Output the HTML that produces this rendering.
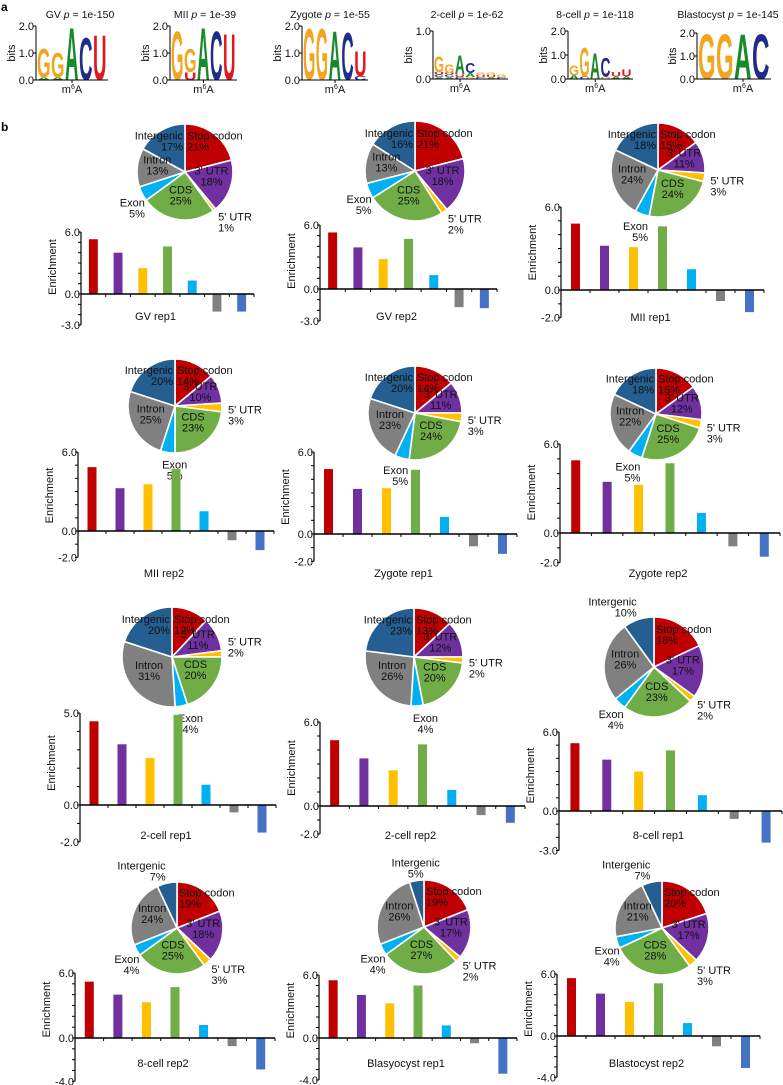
<!DOCTYPE html>
<html><head><meta charset="utf-8">
<style>
html,body{margin:0;padding:0;background:#fff;}
svg{display:block;font-family:"Liberation Sans",Arial,sans-serif;}
</style></head>
<body>
<svg id="fig" width="783" height="1085" viewBox="0 0 783 1085" xmlns="http://www.w3.org/2000/svg">
<text x="1" y="11" font-size="12" font-weight="bold">a</text>
<text x="1" y="131" font-size="12" font-weight="bold">b</text>
</svg>
<script>
// ---------- DATA ----------
const sliceNames = ["Stop codon","3' UTR","5' UTR","CDS","Exon","Intron","Intergenic"];
const panelTitles = ["GV rep1","GV rep2","MII rep1","MII rep2","Zygote rep1","Zygote rep2","2-cell rep1","2-cell rep2","8-cell rep1","8-cell rep2","Blasyocyst rep1","Blastocyst rep2"];
const piePercents = [
 [21,18,1,25,5,13,17],[21,18,2,25,5,13,16],[15,11,3,24,5,24,18],
 [14,10,3,23,5,25,20],[14,11,3,24,5,23,20],[15,12,3,25,5,22,18],
 [12,11,2,20,4,31,20],[13,12,2,20,4,26,23],[18,17,2,23,4,26,10],
 [19,18,3,25,4,24,7],[19,17,2,27,4,26,5],[20,17,3,28,4,21,7]];
const enrichValues = [
 [5.3,4.0,2.5,4.6,1.3,-1.7,-1.7],[5.3,3.9,2.8,4.7,1.3,-1.7,-1.8],[4.8,3.2,3.1,4.6,1.5,-0.8,-1.6],
 [4.85,3.25,3.55,4.7,1.5,-0.7,-1.45],[4.75,3.3,3.35,4.7,1.25,-0.9,-1.45],[4.9,3.45,3.25,4.7,1.35,-0.9,-1.6],
 [4.55,3.3,2.55,4.9,1.1,-0.4,-1.5],[4.7,3.4,2.55,4.4,1.15,-0.65,-1.2],[5.15,3.9,3.0,4.6,1.2,-0.6,-2.4],
 [5.2,4.0,3.3,4.7,1.2,-0.75,-2.9],[5.5,4.1,3.3,5.0,1.2,-0.5,-3.4],[5.6,4.1,3.3,5.1,1.25,-1.0,-3.1]];
const axisTopValues = [6,6,6,6,6,6,5,6,6,6,6,6];
const axisMinValues = [-3,-3,-2,-2,-2,-2,-2,-2,-3,-4,-4,-4];
const motifTitles = ["GV","MII","Zygote","2-cell","8-cell","Blastocyst"];
const motifPvalues = ["1e-150","1e-39","1e-55","1e-62","1e-118","1e-145"];
const motifMaxBits = [2,2,2,1,2,2];
const motifStacks = [
 [[['A',0.1],['G',1.1]],[['A',0.1],['G',0.95]],[['A',2.0]],[['C',1.6]],[['U',1.7]]],
 [[['G',1.85]],[['U',0.3],['G',0.9]],[['A',2.0]],[['C',1.85]],[['U',1.75]]],
 [[['G',1.95]],[['G',1.95]],[['A',1.85]],[['C',1.8]],[['C',0.15],['U',0.95]]],
 [[['A',0.04],['C',0.05],['U',0.05],['G',0.35]],[['A',0.04],['C',0.05],['U',0.04],['G',0.18]],[['C',0.04],['U',0.06],['A',0.4]],[['G',0.04],['A',0.08],['C',0.22]],[['C',0.04],['U',0.04],['G',0.05]],[['A',0.04],['U',0.04],['G',0.05]],[['C',0.04],['G',0.05]]],
 [[['A',0.15],['G',0.45]],[['C',0.1],['G',1.25]],[['A',1.1]],[['G',0.1],['C',0.8]],[['A',0.1],['U',0.2]],[['A',0.1],['U',0.3]]],
 [[['G',2.0]],[['G',2.0]],[['A',2.0]],[['C',2.0]]]];

// ---------- LAYOUT ----------
const sliceColors = ["#c00000","#7030a0","#ffc000","#70ad47","#00b0f0","#808080","#255e91"];
const barColors = ["#c00000","#7030a0","#ffc000","#70ad47","#00b0f0","#808080","#4472c4"];
const letterColors = {G:"#f2a51f",A:"#178a2b",C:"#1f2d8a",U:"#e3161b"};
const pieGeom = [[185,172,48],[415,171,50],[658,170,47],[175,406,47],[415,413,47],[656,414,46],[172,657,50],[414,657,49],[654,667,50],[177,928,46],[424,927,47],[662,928,47]];
const barGeom = [ // x0,x1,zeroY,topY,labelY
 [81,254,294,232,320],[320,497,289,225,320],[561,764,290,207,321],
 [78,274,531,452,577],[314,517,534,452,577],[560,780,533,444,577],
 [80,276,805,713,839],[320,525,806,722,839],[559,782,811,732,839],
 [75,275,1038,973,1067],[319,517,1038,975,1067],[557,760,1036,974,1067]];
const motifGeom = [ // axisX, endX, topY, bottomY, centerX of title
 [36,108,26,80,80],[170,237,26,80,205],[302,368,26,80,330],[433,508,31,79,467],[568,633,31,79,595],[697,771,33,79,728]];

const svg = document.getElementById('fig');
const NS = "http://www.w3.org/2000/svg";
function mk(tag, attrs, parent){
  const e = document.createElementNS(NS, tag);
  for (const k in attrs) e.setAttribute(k, attrs[k]);
  (parent||svg).appendChild(e);
  return e;
}
function polar(cx,cy,r,a){ return [cx + r*Math.sin(a), cy - r*Math.cos(a)]; }

// ---------- MOTIFS ----------
motifStacks.forEach((stacks, m) => {
  const [ax, ex, ty, by, tcx] = motifGeom[m];
  const g = mk('g', {});
  
  
  const t = mk('text', {x: tcx, y: 18, 'font-size': 10.5, 'text-anchor': 'middle', fill: '#111'}, g);
  
  
  t.innerHTML = motifTitles[m] + ' <tspan font-style="italic">p</tspan> = ' + motifPvalues[m];
  const bitsPx = (by - ty) / motifMaxBits[m];
  const n = stacks.length, w = (ex - ax - 2) / n;
  stacks.forEach((stack, i) => {
    let base = by;
    stack.forEach(([ch, bits]) => {
      const h = bits * bitsPx;
      if (h < 0.5) return;
      const lt = mk('text', {x: ax + 1 + i*w, y: base, 'font-size': (h/0.72).toFixed(2), 'font-weight': 'bold', fill: letterColors[ch], textLength: (w-0.5).toFixed(2), lengthAdjust: 'spacingAndGlyphs'}, g);
      
      
      lt.textContent = ch;
      base -= h;
    });
  });
  mk('line', {x1: ax, y1: ty, x2: ax, y2: by, stroke: '#000', 'stroke-width': 1}, g);
  mk('line', {x1: ax, y1: by, x2: ex, y2: by, stroke: '#000', 'stroke-width': 1}, g);
  const ticks = motifMaxBits[m] === 2 ? [0,1,2] : [0,1];
  ticks.forEach(v => {
    const y = by - v*bitsPx;
    mk('line', {x1: ax-3, y1: y, x2: ax, y2: y, stroke: '#000'}, g);
    const tl = mk('text', {x: ax-2, y: y+4, 'font-size': 11, 'text-anchor': 'end', fill: '#111'}, g);
    
    
    tl.textContent = v.toFixed(1);
  });
  const yl = mk('text', {x: 0, y: 0, 'font-size': 11, 'text-anchor': 'middle', fill: '#111', transform: `translate(${ax-21},${(ty+by)/2}) rotate(-90)`}, g);
  
  
  yl.textContent = 'bits';
  const ac = ax + 1 + 2.5*w;
  mk('line', {x1: ac, y1: by, x2: ac, y2: by+3, stroke: '#000'}, g);
  const xl = mk('text', {x: ac, y: by+13, 'font-size': 11, 'text-anchor': 'middle', fill: '#111'}, g);
  
  
  xl.innerHTML = 'm<tspan font-size="7" dy="-4">6</tspan><tspan dy="4">A</tspan>';
});

// ---------- PIES ----------
piePercents.forEach((pcts, p) => {
  const [cx, cy, r] = pieGeom[p];
  const g = mk('g', {});
  
  
  const total = pcts.reduce((a,b)=>a+b,0);
  let a0 = 0;
  const labels = [];
  pcts.forEach((v, i) => {
    const a1 = a0 + v/total*2*Math.PI;
    const p0 = polar(cx,cy,r,a0), p1 = polar(cx,cy,r,a1);
    const large = (a1-a0) > Math.PI ? 1 : 0;
    const path = mk('path', {d: `M${cx},${cy} L${p0[0].toFixed(2)},${p0[1].toFixed(2)} A${r},${r} 0 ${large} 1 ${p1[0].toFixed(2)},${p1[1].toFixed(2)} Z`, fill: sliceColors[i], stroke: '#fff', 'stroke-width': 1.6}, g);
    
    
    labels.push([(a0+a1)/2, v, i]);
    a0 = a1;
  });
  labels.forEach(([am, v, i]) => {
    let x, y, anchor = 'middle';
    if (i === 0) {
      x = cx + 2; y = cy - r*0.68; anchor = 'start';
    } else if (i === 6 && v > 10) {
      x = cx - 2; y = cy - r*0.68; anchor = 'end';
    } else if (v <= 10 && i !== 1) {
      const pt = polar(cx, cy, r + 6, am);
      x = pt[0]; y = pt[1];
      anchor = Math.sin(am) > 0.2 ? 'start' : (Math.sin(am) < -0.2 ? 'end' : 'middle');
      if (Math.cos(am) < 0) y += 6; else y -= 8;
      if (i === 4) { x += 8; y += 4; }
    } else {
      const pt = polar(cx, cy, r*0.58, am);
      x = pt[0]; y = pt[1] - 6;
    }
    const t = mk('text', {x: x, y: y, 'font-size': 11, 'text-anchor': anchor, fill: '#111'}, g);
    
    
    t.innerHTML = `<tspan x="${x}">${sliceNames[i]}</tspan><tspan x="${x}" dy="11">${v}%</tspan>`;
  });
});

// ---------- BARS ----------
enrichValues.forEach((vals, p) => {
  const [x0, x1, zy, ty, ly] = barGeom[p];
  const top = axisTopValues[p], mn = axisMinValues[p];
  const k = (zy - ty) / top;
  const yS = v => zy - v*k;
  const g = mk('g', {});
  
  
  const slot = (x1 - x0) / 7, bw = Math.min(9, slot*0.36);
  vals.forEach((v, i) => {
    const cxb = x0 + slot*(i+0.5);
    const y1 = Math.min(yS(v), zy), h = Math.abs(yS(v) - zy);
    const b = mk('rect', {x: (cxb - bw/2).toFixed(2), y: y1.toFixed(2), width: bw.toFixed(2), height: h.toFixed(2), fill: barColors[i]}, g);
    
    
  });
  mk('line', {x1: x0, y1: ty, x2: x0, y2: yS(mn), stroke: '#000', 'stroke-width': 1.2}, g);
  mk('line', {x1: x0, y1: zy, x2: x1, y2: zy, stroke: '#000', 'stroke-width': 1.6}, g);
  for (let j = 1; j <= 7; j++) mk('line', {x1: x0 + slot*j, y1: zy, x2: x0 + slot*j, y2: zy + 3, stroke: '#000'}, g);
  for (let v = mn; v <= top; v++) mk('line', {x1: x0 - 3, y1: yS(v), x2: x0, y2: yS(v), stroke: '#000'}, g);
  [top, 0, mn].forEach(v => {
    const t = mk('text', {x: x0 - 1, y: yS(v) + 4, 'font-size': 11, 'text-anchor': 'end', fill: '#111'}, g);
    
    
    t.textContent = v.toFixed(1);
  });
  const yl = mk('text', {x: 0, y: 0, 'font-size': 11, 'text-anchor': 'middle', fill: '#111', transform: `translate(${x0-25},${(ty+zy)/2 + 4}) rotate(-90)`}, g);
  
  
  yl.textContent = 'Enrichment';
  const xl = mk('text', {x: (x0+x1)/2 - 12, y: ly, 'font-size': 11, 'text-anchor': 'middle', fill: '#111'}, g);
  
  
  xl.textContent = panelTitles[p];
});
</script>
</body></html>
